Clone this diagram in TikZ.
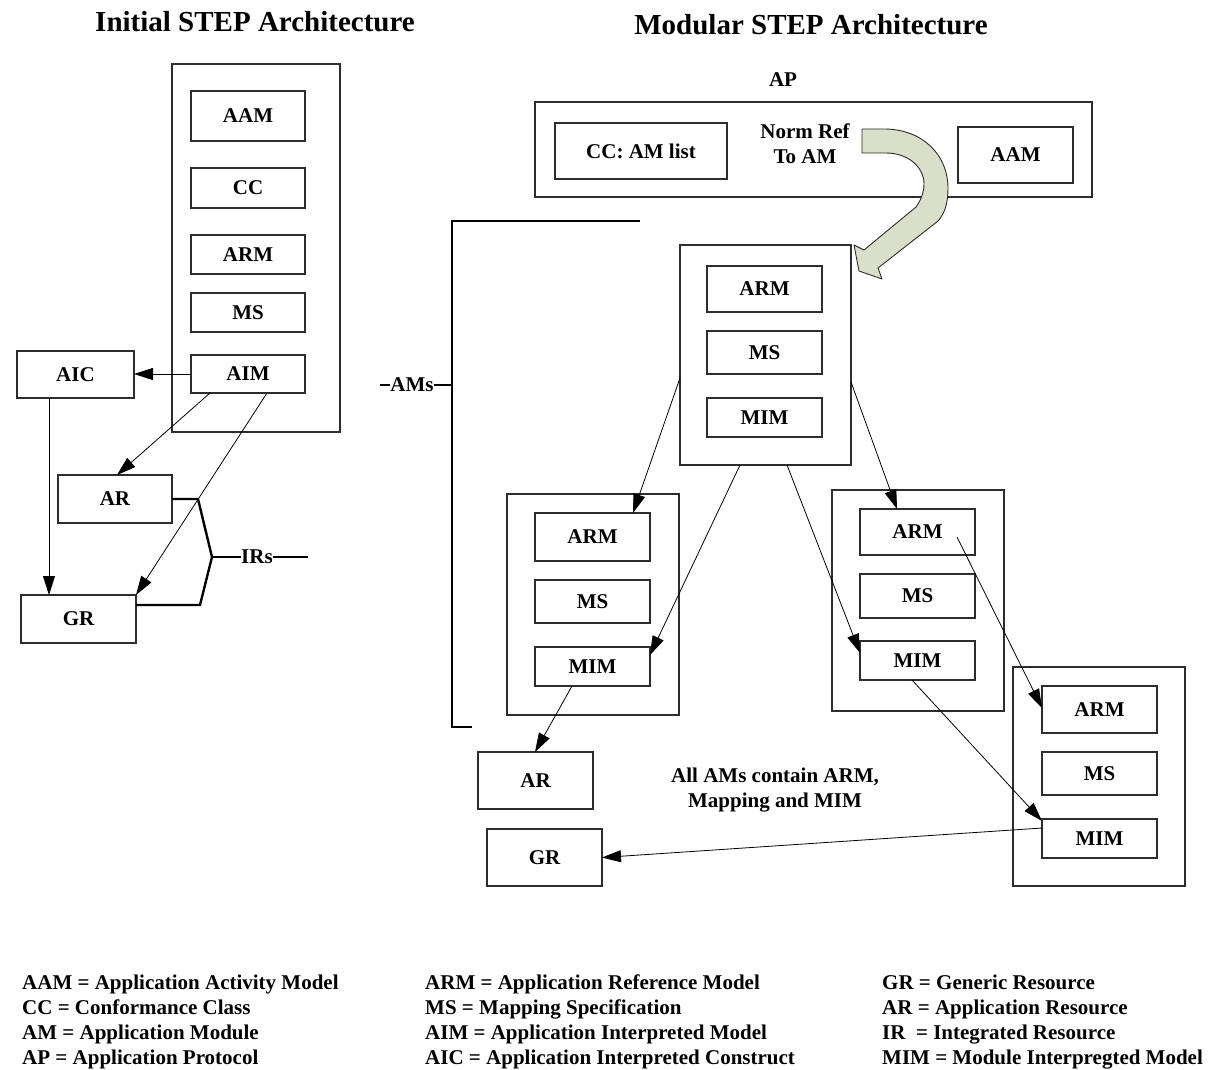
\documentclass[tikz,border=0pt]{standalone}
\usepackage{fontspec}
\setmainfont{Liberation Serif}
\usetikzlibrary{arrows.meta,calc}
\definecolor{arrowfill}{RGB}{217,223,200}
\definecolor{edgecol}{RGB}{45,45,45}
\newcommand\mkbox[6]{\node[bx,minimum width={(#4-#2)*1pt},minimum height={(#5-#3)*1pt}] (#1) at ({(#2+#4)/2},{(#3+#5)/2}) {#6};}
\begin{document}
\begin{tikzpicture}[x=1pt,y=-1pt,
  bx/.style={draw=edgecol,line width=1.1pt,inner sep=0pt,outer sep=0pt,font=\fontsize{21}{25}\selectfont\bfseries},
  lbl/.style={font=\fontsize{21}{25}\selectfont\bfseries,inner sep=0pt},
  ttl/.style={font=\fontsize{29}{34}\selectfont\bfseries,inner sep=0pt},
  leg/.style={font=\fontsize{21}{25}\selectfont\bfseries,inner sep=0pt,anchor=base west},
  arr/.style={draw=black,line width=0.8pt,-{Triangle[length=19pt,width=12pt]}},
  brk/.style={draw=black,line width=2.4pt},
  ]
\fill[white] (0,0) rectangle (1212,1069);
\useasboundingbox (0,0) rectangle (1212,1069);

% titles
\node[ttl] (t1) at (255,22) {Initial STEP Architecture};
\node[ttl] (t2) at (811,25) {Modular STEP Architecture};

% ---------- initial architecture ----------
\mkbox{bigL}{172}{64}{340}{432}{}
\mkbox{aam}{191}{91}{305}{141}{AAM}
\mkbox{cc}{191}{168}{305}{208}{CC}
\mkbox{arm}{191}{235}{305}{274}{ARM}
\mkbox{ms}{191}{293}{305}{332}{MS}
\mkbox{aim}{191}{355}{305}{393}{AIM}
\mkbox{aic}{17}{351}{134}{398}{AIC}
\mkbox{arL}{58}{475}{172}{523}{AR}
\mkbox{grL}{21}{595}{136}{643}{GR}

\draw[arr] (aim.west) -- (aim.west -| aic.east);
\draw[arr] ($(aic.south west)+(32,0)$) -- ($(grL.north west)+(28,0)$);
\draw[arr] ($(aim.south west)+(19,0)$) -- ($(arL.north west)+(59,0)$);
\draw[arr] ($(aim.south west)+(76,0)$) -- (grL.north east);

\node[lbl] (irs) at (257,557) {IRs};
\coordinate (irsj) at (212,557);
\coordinate (irsend) at (308,557);
\draw[brk] (arL.east) -- ($(arL.east)+(26,0)$) -- (irsj) -- (200,605) -- ($(grL.north east)+(0,10)$);
\draw[brk] (irsj) -- (irs.west);
\draw[brk] (irs.east) -- (irsend);

% ---------- modular architecture ----------
\node[lbl] (ap) at (783,80) {AP};
\mkbox{apbox}{535}{102}{1092}{197}{}
\mkbox{cclist}{555}{123}{727}{179}{CC: AM list}
\mkbox{aamR}{958}{127}{1073}{183}{AAM}
\node[lbl] (nr1) at (805,131) {Norm Ref};
\node[lbl] (nr2) at (805,157) {To AM};

\mkbox{M1}{680}{245}{851}{465}{}
\mkbox{m1arm}{707}{266}{822}{312}{ARM}
\mkbox{m1ms}{707}{331}{822}{374}{MS}
\mkbox{m1mim}{707}{398}{822}{437}{MIM}

\mkbox{M2}{507}{494}{679}{715}{}
\mkbox{m2arm}{535}{513}{650}{561}{ARM}
\mkbox{m2ms}{535}{580}{650}{623}{MS}
\mkbox{m2mim}{535}{647}{650}{686}{MIM}

\mkbox{M3}{832}{490}{1004}{711}{}
\mkbox{m3arm}{860}{509}{975}{555}{ARM}
\mkbox{m3ms}{860}{574}{975}{618}{MS}
\mkbox{m3mim}{860}{641}{975}{680}{MIM}

\mkbox{M4}{1013}{667}{1185}{886}{}
\mkbox{m4arm}{1042}{686}{1157}{733}{ARM}
\mkbox{m4ms}{1042}{752}{1157}{795}{MS}
\mkbox{m4mim}{1042}{819}{1157}{858}{MIM}

\mkbox{arR}{478}{752}{593}{809}{AR}
\mkbox{grR}{487}{829}{602}{886}{GR}

% AMs bracket
\coordinate (bt) at (640,221);
\coordinate (btl) at (452,221);
\coordinate (bbl) at (452,727);
\coordinate (bb) at (472,727);
\coordinate (bmid) at (452,385);
\coordinate (amsend) at (380,385);
\node[lbl] (ams) at (412,385) {AMs};
\draw[brk] (bt) -- (btl) -- (bbl) -- (bb);
\draw[brk] (ams.east) -- (bmid);
\draw[brk] (amsend) -- (ams.west);

% connectors
\draw[arr] ($(M1.north west)+(0,133)$) -- ($(m2arm.north west)+(98,0)$);
\draw[arr] ($(M1.south west)+(60,0)$) -- ($(m2mim.north east)+(0,8)$);
\draw[arr] ($(M1.south west)+(107,0)$) -- ($(m3mim.north west)+(0,12)$);
\draw[arr] ($(M1.north east)+(0,137)$) -- ($(m3arm.north west)+(37,0)$);
\draw[arr] ($(m3arm.north west)+(97,28)$) -- ($(m4arm.north west)+(0,22)$);
\draw[arr] ($(m3mim.south west)+(52,0)$) -- ($(m4mim.north west)+(0,2)$);
\draw[arr] ($(m4mim.north west)+(0,9)$) -- (grR.east);
\draw[arr] ($(m2mim.south west)+(37,0)$) -- ($(arR.north west)+(57,0)$);

% curved block arrow
\filldraw[fill=arrowfill,draw=edgecol,line width=0.9pt,line join=round]
  (862,129) -- (886,129) .. controls (924,130) and (948,156) .. (948,188)
  .. controls (948,203) and (945,213) .. (938,221) -- (878,268) -- (882,279) -- (859,271)
  -- (854,245) -- (864,250) -- (916,207) .. controls (921,200) and (924,192) .. (924,184)
  .. controls (924,167) and (908,153) .. (886,153) -- (862,153) -- cycle;

\node[lbl,anchor=base] (note1) at (775,782) {All AMs contain ARM,};
\node[lbl,anchor=base] (note2) at (775,807) {Mapping and MIM};

% legend
\node[leg] (la1) at (22,989) {AAM = Application Activity Model};
\node[leg] (la2) at (22,1014) {CC = Conformance Class};
\node[leg] (la3) at (22,1039) {AM = Application Module};
\node[leg] (la4) at (22,1064) {AP = Application Protocol};
\node[leg] (lb1) at (425,989) {ARM = Application Reference Model};
\node[leg] (lb2) at (425,1014) {MS = Mapping Specification};
\node[leg] (lb3) at (425,1039) {AIM = Application Interpreted Model};
\node[leg] (lb4) at (425,1064) {AIC = Application Interpreted Construct};
\node[leg] (lc1) at (882,989) {GR = Generic Resource};
\node[leg] (lc2) at (882,1014) {AR = Application Resource};
\node[leg] (lc3) at (882,1039) {IR\ \ = Integrated Resource};
\node[leg] (lc4) at (882,1064) {MIM = Module Interpregted Model};
\end{tikzpicture}
\end{document}
